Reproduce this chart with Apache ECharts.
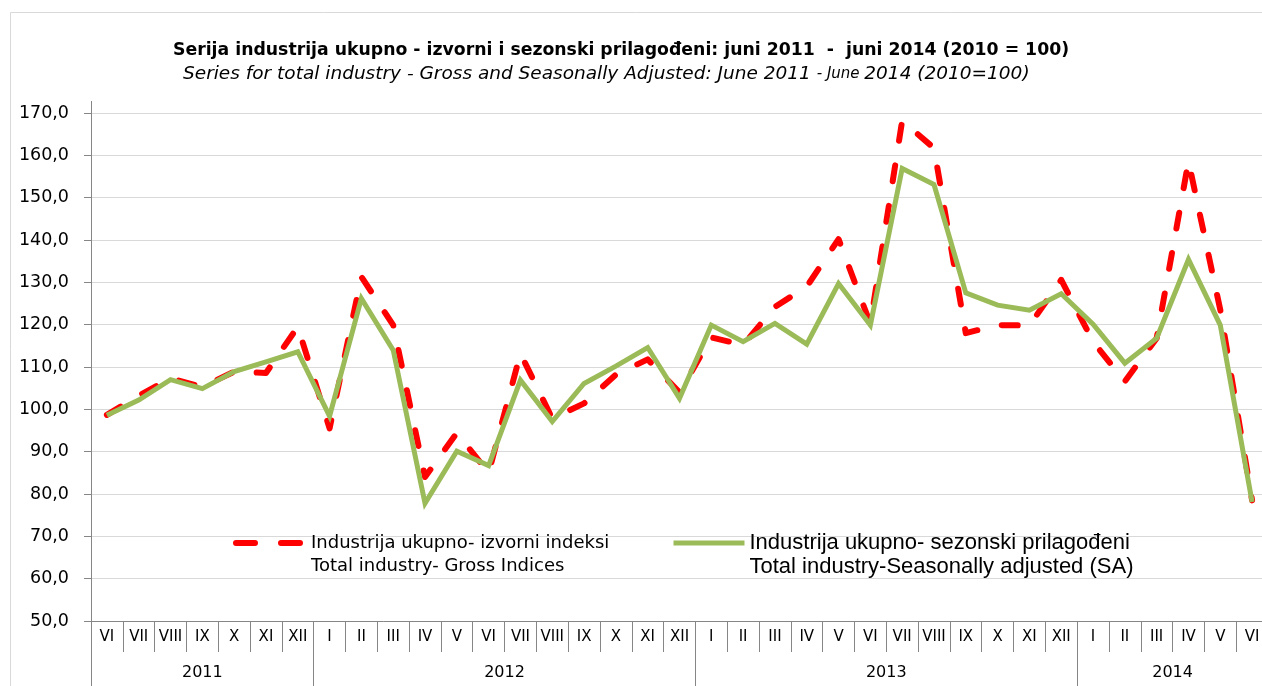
<!DOCTYPE html>
<html><head><meta charset="utf-8">
<script src="https://cdn.jsdelivr.net/npm/echarts@6/dist/echarts.min.js"></script>
<style>html,body{margin:0;padding:0;background:#fff}#c{width:1262px;height:686px}</style>
</head><body><div id="c"></div>
<script>
// ---- data ----
const months = ['VI','VII','VIII','IX','X','XI','XII',
  'I','II','III','IV','V','VI','VII','VIII','IX','X','XI','XII',
  'I','II','III','IV','V','VI','VII','VIII','IX','X','XI','XII',
  'I','II','III','IV','V','VI'];
const years = ['2011','2012','2013','2014'];
const monthsPerYear = [7,12,12,6];
const grossIndices = [98.7,103.2,107.3,105.3,108.9,108.6,119.5,
  95.5,131.3,119.9,84.0,94.4,85.0,113.2,97.8,101.4,108.2,111.8,104.0,
  117.0,115.2,124.2,129.0,140.2,120.2,168.2,161.7,118.0,119.9,119.8,130.6,
  116.0,106.6,116.8,158.6,123.5,78.5];
const seasonallyAdjusted = [98.6,102.2,107.0,104.9,108.9,111.2,113.6,
  98.4,126.2,114.0,77.8,90.1,86.7,106.9,97.1,106.1,110.2,114.6,102.6,
  119.9,116.0,120.3,115.4,129.7,119.9,156.9,153.1,127.5,124.6,123.4,127.3,
  120.1,110.9,116.8,135.4,119.9,78.1];
const yMin = 50, yMax = 170, yInterval = 10;
const seriesNames = [
  'Industrija ukupno- izvorni indeksi\nTotal industry- Gross Indices',
  'Industrija ukupno- sezonski prilagođeni\nTotal industry-Seasonally adjusted (SA)'
];
const titleText = 'Serija industrija ukupno - izvorni i sezonski prilagođeni: juni 2011  -  juni 2014 (2010 = 100)';
const subtitleText = '{a|Series for total industry - Gross and Seasonally Adjusted: June 2011 }{b|- June }{a|2014 (2010=100)}';

// ---- year axis built on half-month positions ----
const yearStarts = []; let acc = 0;
monthsPerYear.forEach(n => { yearStarts.push(acc); acc += n; });
const halfCount = acc * 2 + 1;
const yearBoundaryIdx = yearStarts.map(s => s * 2);
const yearMidIdx = yearStarts.map((s, k) => s * 2 + monthsPerYear[k]);
const yearAxisData = [];
for (let h = 0; h < halfCount; h++) {
  const k = yearMidIdx.indexOf(h);
  yearAxisData.push(k >= 0 ? years[k] : '');
}

const chart = echarts.init(document.getElementById('c'), null, {renderer: 'canvas'});
const axisGray = '#868686';
chart.setOption({
  backgroundColor: '#ffffff',
  animation: false,
  title: [
    {text: titleText, left: 173, top: 41, padding: 0,
     textStyle: {fontFamily: 'DejaVu Sans', fontWeight: 'bold', fontSize: 17.3, lineHeight: 20, color: '#000'}},
    {text: subtitleText, left: 183, top: 64, padding: 0,
     textStyle: {rich: {
       a: {fontFamily: 'DejaVu Sans', fontStyle: 'italic', fontWeight: 'normal', fontSize: 18.5, lineHeight: 20, color: '#000'},
       b: {fontFamily: 'DejaVu Sans', fontStyle: 'italic', fontWeight: 'normal', fontSize: 15, lineHeight: 20, color: '#000'}
     }}}
  ],
  graphic: [
    {type: 'rect', shape: {x: 10.5, y: 12.5, width: 1400, height: 800}, style: {fill: 'none', stroke: '#d9d9d9', lineWidth: 1}, silent: true},
    {type: 'line', shape: {x1: 91.5, y1: 101, x2: 91.5, y2: 113}, style: {stroke: axisGray, lineWidth: 1}, silent: true}
  ],
  legend: [
    {data: [{name: seriesNames[0], itemStyle: {opacity: 0, borderWidth: 0},
             lineStyle: {type: [19, 26], width: 6, cap: 'round'}}],
     left: 233, top: 508.5, padding: 0, itemWidth: 70, itemHeight: 14, selectedMode: false,
     formatter: (n) => '\n' + n,
     textStyle: {fontFamily: 'DejaVu Sans', fontSize: 18, lineHeight: 23, color: '#000'}},
    {data: [{name: seriesNames[1], itemStyle: {opacity: 0, borderWidth: 0}, lineStyle: {width: 5}}],
     left: 671, top: 507, padding: 0, itemWidth: 71, itemHeight: 14, selectedMode: false,
     formatter: (n) => '\n' + n,
     textStyle: {fontFamily: 'Liberation Sans', fontSize: 22, lineHeight: 24, color: '#000'}}
  ],
  grid: {left: 91, top: 113, width: 1177, height: 508, containLabel: false, outerBoundsMode: 'none'},
  xAxis: [
    {type: 'category', data: months, boundaryGap: true, position: 'bottom',
     axisLine: {show: true, lineStyle: {color: axisGray, width: 1}},
     axisTick: {show: true, interval: 0, length: 31, lineStyle: {color: axisGray}},
     axisLabel: {interval: 0, margin: 9, fontFamily: 'DejaVu Sans', fontSize: 15, color: '#000', hideOverlap: false},
     splitLine: {show: false}},
    {type: 'category', data: yearAxisData, boundaryGap: false, position: 'bottom', offset: 0,
     axisLine: {show: false},
     axisTick: {show: true, length: 65, interval: (i) => yearBoundaryIdx.indexOf(i) >= 0, lineStyle: {color: axisGray}},
     axisLabel: {interval: (i) => yearMidIdx.indexOf(i) >= 0, margin: 44, fontFamily: 'DejaVu Sans', fontSize: 16, color: '#000'},
     splitLine: {show: false}}
  ],
  yAxis: {type: 'value', min: yMin, max: yMax, interval: yInterval,
    axisLine: {show: true, lineStyle: {color: axisGray, width: 1}},
    axisTick: {show: true, length: 7, lineStyle: {color: axisGray}},
    axisLabel: {margin: 22, fontFamily: 'DejaVu Sans', fontSize: 17.5, color: '#000',
      formatter: (v) => v.toFixed(1).replace('.', ',')},
    splitLine: {show: true, lineStyle: {color: '#d9d9d9', width: 1}}},
  series: [
    {name: seriesNames[0], type: 'line', data: grossIndices, xAxisIndex: 0, symbol: 'none',
     color: '#ff0000',
     lineStyle: {color: '#ff0000', width: 6, type: [16, 25], cap: 'round', join: 'round'}},
    {name: seriesNames[1], type: 'line', data: seasonallyAdjusted, xAxisIndex: 0, symbol: 'none',
     color: '#9bbb59',
     lineStyle: {color: '#9bbb59', width: 5, join: 'miter'}}
  ]
});
</script></body></html>
